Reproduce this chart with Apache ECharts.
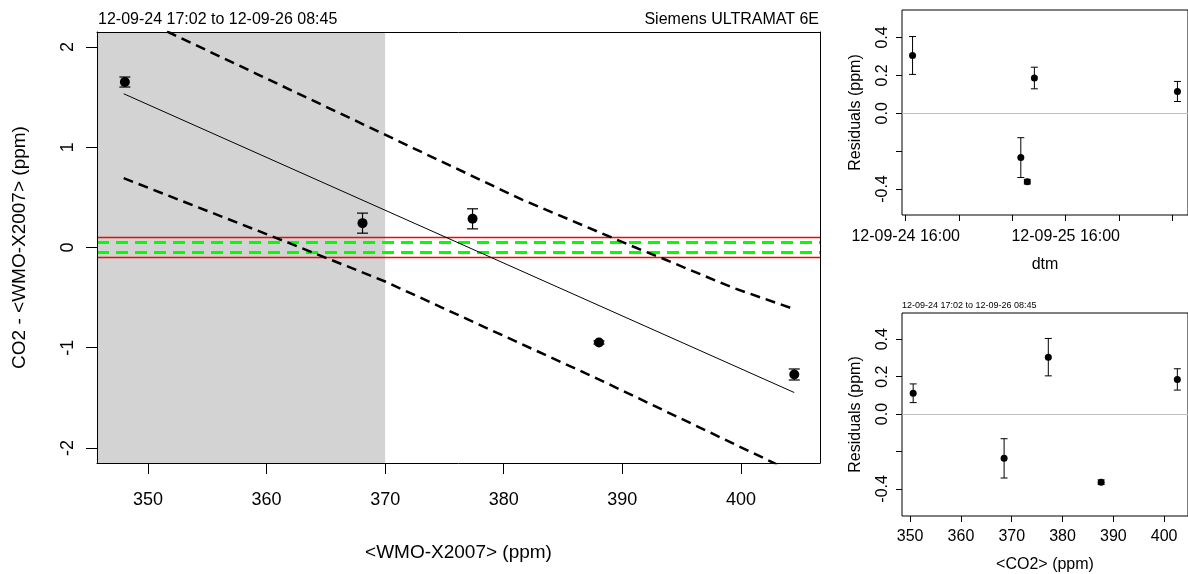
<!DOCTYPE html>
<html><head><meta charset="utf-8">
<script src="https://cdn.jsdelivr.net/npm/echarts@6/dist/echarts.min.js"></script>
<style>html,body{margin:0;padding:0;background:#fff}#c{width:1188px;height:574px}</style>
</head><body><div id="c"></div>
<script>
// ---------- data ----------
const wmo = [348.05, 368.09, 377.37, 388.03, 404.5];          // <WMO-X2007> (ppm)
const diff = [1.651, 0.243, 0.286, -0.948, -1.267];           // CO2 - <WMO-X2007>
const diffErr = [0.05, 0.10, 0.10, 0.015, 0.055];
const fitLine = [[347.95, 1.534], [404.5, -1.447]];
const upperBand = [[347.95, 2.36], [351.7, 2.15], [366.7, 1.31], [372.4, 0.99], [381.5, 0.48], [390.9, 0.01], [393.4, -0.11], [399.4, -0.405], [404.5, -0.615]];
const lowerBand = [[347.95, 0.692], [360.84, 0.094], [370, -0.339], [371.2, -0.405], [388.1, -1.32], [401.9, -2.10], [404.5, -2.25]];
const shadeTo = 370;
const redLimits = [0.1, -0.1];
const greenLimits = [0.05, -0.05];
const mainXTicks = [350, 360, 370, 380, 390, 400];
const mainYTicks = [-2, -1, 0, 1, 2];

const times = ['2012-09-24 17:02', '2012-09-25 09:16', '2012-09-25 10:14', '2012-09-25 11:18', '2012-09-26 08:45'];
const resTime = [0.305, -0.234, -0.361, 0.186, 0.115];
const resTimeErr = [0.10, 0.105, 0.012, 0.057, 0.053];
const timeTicks = ['2012-09-24 16:00', '2012-09-25 00:00', '2012-09-25 08:00', '2012-09-25 16:00', '2012-09-26 00:00', '2012-09-26 08:00'];
const timeLabels = ['2012-09-24 16:00', '2012-09-25 16:00'];

const co2 = [350.6, 368.5, 377.2, 387.6, 402.6];               // <CO2> (ppm)
const resCo2 = [0.111, -0.237, 0.304, -0.364, 0.185];
const resCo2Err = [0.05, 0.105, 0.10, 0.012, 0.057];
const co2Ticks = [350, 360, 370, 380, 390, 400];
const resTicks = [-0.4, -0.2, 0, 0.2, 0.4];
const resLabels = [-0.4, 0, 0.2, 0.4];

const titleLeft = '12-09-24 17:02 to 12-09-26 08:45';
const titleRight = 'Siemens ULTRAMAT 6E';

// ---------- helpers ----------
function parseT(s) {
  const m = s.match(/(\d+)-(\d+)-(\d+) (\d+):(\d+)/);
  return Date.UTC(+m[1], +m[2] - 1, +m[3], +m[4], +m[5]);
}
function pad(n) { return (n < 10 ? '0' : '') + n; }
function fmtT(v) {
  const d = new Date(v);
  return pad(d.getUTCFullYear() % 100) + '-' + pad(d.getUTCMonth() + 1) + '-' + pad(d.getUTCDate()) + ' ' + pad(d.getUTCHours()) + ':' + pad(d.getUTCMinutes());
}
const FONT = '"Liberation Sans", Arial, Helvetica, sans-serif';
function errRender(capHalf, lw) {
  return function (params, api) {
    const x = api.value(0), lo = api.value(1), hi = api.value(2);
    const a = api.coord([x, hi]), b = api.coord([x, lo]);
    const st = { stroke: '#000', lineWidth: lw };
    return { type: 'group', children: [
      { type: 'line', shape: { x1: a[0], y1: a[1], x2: b[0], y2: b[1] }, style: st },
      { type: 'line', shape: { x1: a[0] - capHalf, y1: a[1], x2: a[0] + capHalf, y2: a[1] }, style: st },
      { type: 'line', shape: { x1: b[0] - capHalf, y1: b[1], x2: b[0] + capHalf, y2: b[1] }, style: st }
    ]};
  };
}
// horizontal reference line spanning the whole grid, drawn through the axes' scales
function hRender(color, width, dash) {
  return function (params, api) {
    const v = api.value(0);
    const cs = params.coordSys;
    let y = api.coord([0, v])[1];
    if (!dash) y = Math.round(y - 0.5) + 0.5;
    return { type: 'line', shape: { x1: cs.x, y1: y, x2: cs.x + cs.width, y2: y },
      style: { stroke: color, lineWidth: width, lineDash: dash || null, opacity: 1 } };
  };
}
const blk = { color: '#000', width: 1 };
const tStyle = (sz) => ({ color: '#000', fontSize: sz, fontFamily: FONT });

const tTicks = timeTicks.map(parseT);
const tLabs = timeLabels.map(parseT);
const tMin = parseT('2012-09-24 15:27'), tMax = parseT('2012-09-26 10:20');

const chart = echarts.init(document.getElementById('c'), null, { renderer: 'canvas' });
chart.setOption({
  animation: false,
  backgroundColor: '#fff',
  textStyle: { fontFamily: FONT },
  grid: [
    { left: 97, top: 32, width: 723, height: 431 },
    { left: 902, top: 10, width: 296, height: 205, show: true, borderColor: '#000', borderWidth: 1, backgroundColor: 'transparent' },
    { left: 902, top: 313, width: 295, height: 205, show: true, borderColor: '#000', borderWidth: 1, backgroundColor: 'transparent' }
  ],
  xAxis: [
    { gridIndex: 0, type: 'value', min: 345.7, max: 406.67, position: 'bottom', z: 10,
      axisLine: { show: true, onZero: false, lineStyle: blk },
      axisTick: { show: true, customValues: mainXTicks, length: 11, lineStyle: blk },
      axisLabel: { customValues: mainXTicks, margin: 28, ...tStyle(18) },
      splitLine: { show: false },
      name: '<WMO-X2007> (ppm)', nameLocation: 'middle', nameGap: 80, nameTextStyle: tStyle(19) },
    { gridIndex: 0, type: 'value', min: 345.7, max: 406.67, position: 'top', z: 10,
      axisLine: { show: true, onZero: false, lineStyle: blk }, axisTick: { show: false }, axisLabel: { show: false }, splitLine: { show: false } },
    { gridIndex: 1, type: 'value', min: tMin, max: tMax, position: 'bottom',
      axisLine: { show: false, onZero: false },
      axisTick: { show: true, customValues: tTicks, length: 6, lineStyle: blk },
      axisLabel: { customValues: tLabs, formatter: fmtT, margin: 14, ...tStyle(16) },
      splitLine: { show: false },
      name: 'dtm', nameLocation: 'middle', nameGap: 42, nameTextStyle: tStyle(16) },
    { gridIndex: 2, type: 'value', min: 348.4, max: 404.7, position: 'bottom',
      axisLine: { show: false, onZero: false },
      axisTick: { show: true, customValues: co2Ticks, length: 6, lineStyle: blk },
      axisLabel: { customValues: co2Ticks, margin: 13, ...tStyle(16) },
      splitLine: { show: false },
      name: '<CO2> (ppm)', nameLocation: 'middle', nameGap: 41, nameTextStyle: tStyle(16) }
  ],
  yAxis: [
    { gridIndex: 0, type: 'value', min: -2.15, max: 2.15, position: 'left', z: 10,
      axisLine: { show: true, onZero: false, lineStyle: blk },
      axisTick: { show: true, customValues: mainYTicks, length: 11, lineStyle: blk },
      axisLabel: { customValues: mainYTicks, rotate: 90, margin: 20, ...tStyle(18) },
      splitLine: { show: false },
      name: 'CO2 - <WMO-X2007> (ppm)', nameLocation: 'middle', nameGap: 68, nameRotate: 90, nameTextStyle: tStyle(19) },
    { gridIndex: 0, type: 'value', min: -2.15, max: 2.15, position: 'right', z: 10,
      axisLine: { show: true, onZero: false, lineStyle: blk }, axisTick: { show: false }, axisLabel: { show: false }, splitLine: { show: false } },
    { gridIndex: 1, type: 'value', min: -0.537, max: 0.545, position: 'left',
      axisLine: { show: false, onZero: false },
      axisTick: { show: true, customValues: resTicks, length: 6, lineStyle: blk },
      axisLabel: { customValues: resLabels, rotate: 90, margin: 11, formatter: v => v.toFixed(1), ...tStyle(16) },
      splitLine: { show: false },
      name: 'Residuals (ppm)', nameLocation: 'middle', nameGap: 38, nameRotate: 90, nameTextStyle: tStyle(16) },
    { gridIndex: 2, type: 'value', min: -0.545, max: 0.54, position: 'left',
      axisLine: { show: false, onZero: false },
      axisTick: { show: true, customValues: resTicks, length: 6, lineStyle: blk },
      axisLabel: { customValues: resLabels, rotate: 90, margin: 11, formatter: v => v.toFixed(1), ...tStyle(16) },
      splitLine: { show: false },
      name: 'Residuals (ppm)', nameLocation: 'middle', nameGap: 38, nameRotate: 90, nameTextStyle: tStyle(16) }
  ],
  graphic: [
    { type: 'text', left: 98, top: 12, style: { text: titleLeft, fill: '#000', font: '16px ' + FONT } },
    { type: 'text', right: 1188 - 819, top: 12, style: { text: titleRight, fill: '#000', font: '16px ' + FONT } },
    { type: 'text', left: 902, top: 301, style: { text: titleLeft, fill: '#000', font: '9px ' + FONT } }
  ],
  series: [
    { type: 'line', xAxisIndex: 0, yAxisIndex: 0, z: 1, data: [[shadeTo, 0]], symbol: 'none', lineStyle: { opacity: 0 }, silent: true,
      markArea: { silent: true, itemStyle: { color: '#d3d3d3', opacity: 1 }, data: [[{ xAxis: 345.7 }, { xAxis: shadeTo }]] } },
    { type: 'custom', xAxisIndex: 0, yAxisIndex: 0, z: 2, silent: true, renderItem: hRender('#ff0000', 1.3),
      encode: { y: 0 }, data: redLimits.map(v => [v]) },
    { type: 'custom', xAxisIndex: 0, yAxisIndex: 0, z: 2, silent: true, renderItem: hRender('#00ff00', 3, [12, 7]),
      encode: { y: 0 }, data: greenLimits.map(v => [v]) },
    { type: 'line', xAxisIndex: 0, yAxisIndex: 0, z: 3, data: fitLine, symbol: 'none', lineStyle: { color: '#000', width: 1 }, silent: true },
    { type: 'line', xAxisIndex: 0, yAxisIndex: 0, z: 3, data: upperBand, symbol: 'none', lineStyle: { color: '#000', width: 2.5, type: [10, 6] }, silent: true },
    { type: 'line', xAxisIndex: 0, yAxisIndex: 0, z: 3, data: lowerBand, symbol: 'none', lineStyle: { color: '#000', width: 2.5, type: [10, 6] }, silent: true },
    { type: 'custom', xAxisIndex: 0, yAxisIndex: 0, z: 4, renderItem: errRender(5.5, 1.2), encode: { x: 0, y: [1, 2] },
      data: wmo.map((x, i) => [x, diff[i] - diffErr[i], diff[i] + diffErr[i]]) },
    { type: 'scatter', xAxisIndex: 0, yAxisIndex: 0, z: 5, symbolSize: 10, itemStyle: { color: '#000', opacity: 1 },
      data: wmo.map((x, i) => [x, diff[i]]) },

    { type: 'custom', xAxisIndex: 2, yAxisIndex: 2, z: 1, silent: true, renderItem: hRender('#bebebe', 1),
      encode: { y: 0 }, data: [[0]] },
    { type: 'custom', xAxisIndex: 2, yAxisIndex: 2, renderItem: errRender(3.5, 1), encode: { x: 0, y: [1, 2] },
      data: times.map((t, i) => [parseT(t), resTime[i] - resTimeErr[i], resTime[i] + resTimeErr[i]]) },
    { type: 'scatter', xAxisIndex: 2, yAxisIndex: 2, symbolSize: 7, itemStyle: { color: '#000', opacity: 1 },
      data: times.map((t, i) => [parseT(t), resTime[i]]) },

    { type: 'custom', xAxisIndex: 3, yAxisIndex: 3, z: 1, silent: true, renderItem: hRender('#bebebe', 1),
      encode: { y: 0 }, data: [[0]] },
    { type: 'custom', xAxisIndex: 3, yAxisIndex: 3, renderItem: errRender(3.5, 1), encode: { x: 0, y: [1, 2] },
      data: co2.map((x, i) => [x, resCo2[i] - resCo2Err[i], resCo2[i] + resCo2Err[i]]) },
    { type: 'scatter', xAxisIndex: 3, yAxisIndex: 3, symbolSize: 7, itemStyle: { color: '#000', opacity: 1 },
      data: co2.map((x, i) => [x, resCo2[i]]) }
  ]
});
</script></body></html>
